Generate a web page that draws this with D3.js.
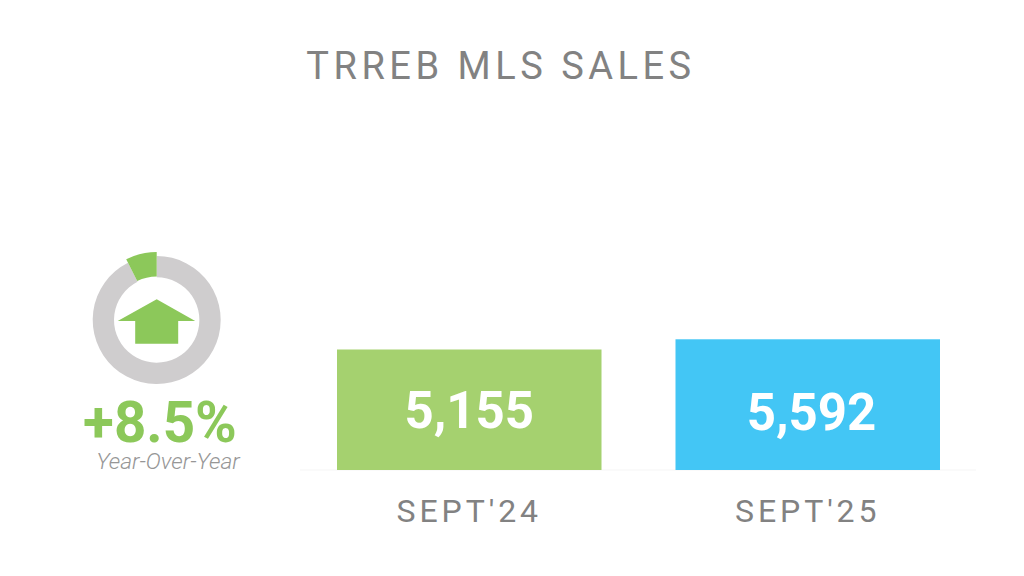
<!DOCTYPE html>
<html>
<head>
<meta charset="utf-8">
<script src="https://cdn.jsdelivr.net/npm/d3@7"></script>
<style>
  html, body { margin: 0; background: #fff; }
  text { font-family: Roboto, sans-serif; }
</style>
</head>
<body>
<svg id="chart" width="1024" height="576"></svg>
<script>
var categories = ["SEPT'24", "SEPT'25"];
var sales = [5155, 5592];
var barColors = ["#a5d16f", "#43c6f5"];
var ringShares = [92.6, 7.4];
var ringColors = ["#cfcdce", "#8cc85a"];
var changeLabel = "+8.5%";
var changeNote = "Year-Over-Year";
var title = "TRREB MLS SALES";

var svg = d3.select("#chart");

var x = d3.scaleBand().domain(categories).range([337, 940]).paddingInner(0.2186);
var y = d3.scaleLinear().domain([0, 6000]).range([470, 329.75]);

svg.append("text")
  .attr("x", 501).attr("y", 79)
  .attr("text-anchor", "middle")
  .attr("font-size", 38)
  .attr("letter-spacing", 4.5)
  .attr("fill", "#828282")
  .text(title);

// faint baseline under the bars
svg.append("line")
  .attr("x1", 300).attr("x2", 976)
  .attr("y1", y(0)).attr("y2", y(0))
  .attr("stroke", "#f5f5f5");

svg.selectAll("rect.bar").data(sales).enter().append("rect")
  .attr("class", "bar")
  .attr("x", function(d, i) { return x(categories[i]); })
  .attr("y", function(d) { return y(d); })
  .attr("width", x.bandwidth())
  .attr("height", function(d) { return y(0) - y(d); })
  .attr("fill", function(d, i) { return barColors[i]; });

// the second value sits a little right of and below the first in the original
svg.selectAll("text.value").data(sales).enter().append("text")
  .attr("class", "value")
  .attr("x", function(d, i) { return x(categories[i]) + x.bandwidth() / 2 + (i ? 3.7 : 0); })
  .attr("y", function(d, i) { return i ? 429.5 : 428.3; })
  .attr("text-anchor", "middle")
  .attr("font-size", 51)
  .attr("font-weight", 700)
  .attr("fill", "#fff")
  .text(d3.format(","));

svg.selectAll("text.cat").data(categories).enter().append("text")
  .attr("class", "cat")
  .attr("x", function(d) { return x(d) + x.bandwidth() / 2; })
  .attr("y", 522)
  .attr("text-anchor", "middle")
  .attr("font-size", 32)
  .attr("letter-spacing", 3.9)
  .attr("fill", "#828282")
  .text(function(d) { return d; });

// ring with the change wedge
var ring = svg.append("g").attr("transform", "translate(156.7,320)");
var pie = d3.pie().sort(null);
var arc = d3.arc();
ring.selectAll("path.slice").data(pie(ringShares)).enter().append("path")
  .attr("class", "slice")
  .attr("d", function(d, i) {
    return arc({
      innerRadius: i ? 43.5 : 42.7,
      outerRadius: i ? 68 : 64,
      startAngle: d.startAngle,
      endAngle: d.endAngle
    });
  })
  .attr("fill", function(d, i) { return ringColors[i]; });

ring.append("path")
  .attr("d", "M0,-20.7L38.5,1H21.5V23.7H-21.5V1H-39Z")
  .attr("fill", ringColors[1]);

svg.append("text")
  .attr("x", 160).attr("y", 442)
  .attr("text-anchor", "middle")
  .attr("font-size", 56.5)
  .attr("font-weight", 700)
  .attr("fill", ringColors[1])
  .text(changeLabel);

svg.append("text")
  .attr("x", 168).attr("y", 469)
  .attr("text-anchor", "middle")
  .attr("font-size", 22.8)
  .attr("font-weight", 300)
  .attr("font-style", "italic")
  .attr("fill", "#969696")
  .text(changeNote);
</script>
</body>
</html>
